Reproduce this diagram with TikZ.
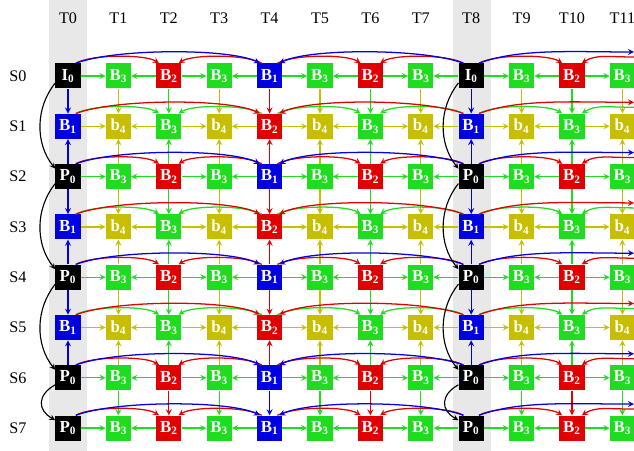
\documentclass[tikz,border=0pt]{standalone}
\usepackage{fontspec}
\setmainfont{Liberation Serif}
\usetikzlibrary{calc}

\definecolor{fgrn}{RGB}{30,220,30}
\definecolor{fred}{RGB}{225,0,0}
\definecolor{fblu}{RGB}{0,0,225}
\definecolor{fylw}{RGB}{200,190,0}
\definecolor{fblk}{RGB}{0,0,0}

\newcommand{\frlab}[2]{#1\textsubscript{#2}}

\tikzset{
  vframe/.style={fill=#1, minimum size=0.625cm, inner sep=0pt, text=white,
    font=\bfseries\fontsize{12}{12}\selectfont},
  lab/.style={font=\fontsize{11.5}{13}\selectfont},
  ref/.style={->, line width=0.9pt},
}

\begin{document}
\begin{tikzpicture}[x=0.025cm, y=-0.025cm, >=stealth]
  \useasboundingbox (0,0) rectangle (634,451);
  \clip (0,0) rectangle (634,451);
  \fill[gray!18] (49,0) rectangle (87,451);
  \fill[gray!18] (453,0) rectangle (491,451);

  % labels
  \foreach \c in {0,...,11}
    \node[lab] (t\c) at ({68+50.4*\c},18) {T\c};
  \foreach \r in {0,...,7}
    \node[lab] (s\r) at (18,{76+50.3*\r}) {S\r};

  % frames
  \foreach \r/\k in {0/I,2/P,4/P,6/P,7/P}
    \foreach \c/\col/\t/\i in {0/fblk/\k/0,1/fgrn/B/3,2/fred/B/2,3/fgrn/B/3,
        4/fblu/B/1,5/fgrn/B/3,6/fred/B/2,7/fgrn/B/3,8/fblk/\k/0,9/fgrn/B/3,
        10/fred/B/2,11/fgrn/B/3}
      \node[vframe=\col] (n\r-\c) at ({68+50.4*\c},{76+50.3*\r}) {\frlab{\t}{\i}};
  \foreach \r in {1,3,5}
    \foreach \c/\col/\t/\i in {0/fblu/B/1,1/fylw/b/4,2/fgrn/B/3,3/fylw/b/4,
        4/fred/B/2,5/fylw/b/4,6/fgrn/B/3,7/fylw/b/4,8/fblu/B/1,9/fylw/b/4,
        10/fgrn/B/3,11/fylw/b/4}
      \node[vframe=\col] (n\r-\c) at ({68+50.4*\c},{76+50.3*\r}) {\frlab{\t}{\i}};

  % vertical references
  \foreach \r in {1,3,5}
    \foreach \c/\col in {0/fblu,1/fylw,2/fgrn,3/fylw,4/fred,5/fylw,6/fgrn,
        7/fylw,8/fblu,9/fylw,10/fgrn,11/fylw} {
      \pgfmathtruncatemacro\up{\r-1}
      \pgfmathtruncatemacro\dn{\r+1}
      \draw[ref,\col] (n\up-\c) -- (n\r-\c);
      \draw[ref,\col] (n\dn-\c) -- (n\r-\c);
    }
  \foreach \c/\col in {1/fgrn,2/fred,3/fgrn,4/fblu,5/fgrn,6/fred,7/fgrn,
      9/fgrn,10/fred,11/fgrn}
    \draw[ref,\col] (n6-\c) -- (n7-\c);

  % horizontal references
  \foreach \r/\col in {0/fgrn,1/fylw,2/fgrn,3/fylw,4/fgrn,5/fylw,6/fgrn,7/fgrn}
    \foreach \c in {1,3,...,11} {
      \pgfmathtruncatemacro\lf{\c-1}
      \draw[ref,\col] (n\r-\lf) -- (n\r-\c);
      \ifnum\c<11
        \pgfmathtruncatemacro\rt{\c+1}
        \draw[ref,\col] (n\r-\rt) -- (n\r-\c);
      \fi
    }

  % arcs over each row
  \foreach \r/\s/\l in {0/fred/fblu,1/fgrn/fred,2/fred/fblu,3/fgrn/fred,
      4/fred/fblu,5/fgrn/fred,6/fred/fblu,7/fred/fblu} {
    \coordinate (es\r) at (634,{76+50.3*\r-19});
    \coordinate (el\r) at (634,{76+50.3*\r-24});
    \foreach \a/\b in {0/2,4/6,8/10}
      \draw[ref,\s] ($(n\r-\a.north east)+(-5,0)$) .. controls +(16,-9) and +(-14,-9) .. ($(n\r-\b.north west)+(3,0)$);
    \foreach \a/\b in {4/2,8/6}
      \draw[ref,\s] ($(n\r-\a.north west)+(5,0)$) .. controls +(-16,-9) and +(14,-9) .. ($(n\r-\b.north east)+(-3,0)$);
    \draw[ref,\s] (es\r) .. controls +(-25,0) and +(14,-9) .. ($(n\r-10.north east)+(-3,0)$);
    \draw[ref,\l] ($(n\r-0.north east)+(-5,0)$) .. controls +(40,-15) and +(-30,-15) .. ($(n\r-4.north west)+(3,0)$);
    \draw[ref,\l] ($(n\r-8.north west)+(5,0)$) .. controls +(-40,-15) and +(30,-15) .. ($(n\r-4.north east)+(-3,0)$);
    \draw[ref,\l] ($(n\r-8.north east)+(-5,0)$) .. controls +(40,-15) and +(-60,0) .. (el\r);
  }

  % P frames chained on the left
  \foreach \c in {0,8} {
    \foreach \a/\b in {0/2,2/4,4/6}
      \draw[ref,fblk,line width=0.8pt] ($(n\a-\c.west)+(0,7)$) .. controls +(-20,25) and +(-20,-25) .. ($(n\b-\c.west)+(0,-8)$);
    \draw[ref,fblk,line width=0.8pt] ($(n6-\c.west)+(0,7)$) .. controls +(-18,10) and +(-18,-10) .. ($(n7-\c.west)+(0,-8)$);
  }
\end{tikzpicture}
\end{document}
